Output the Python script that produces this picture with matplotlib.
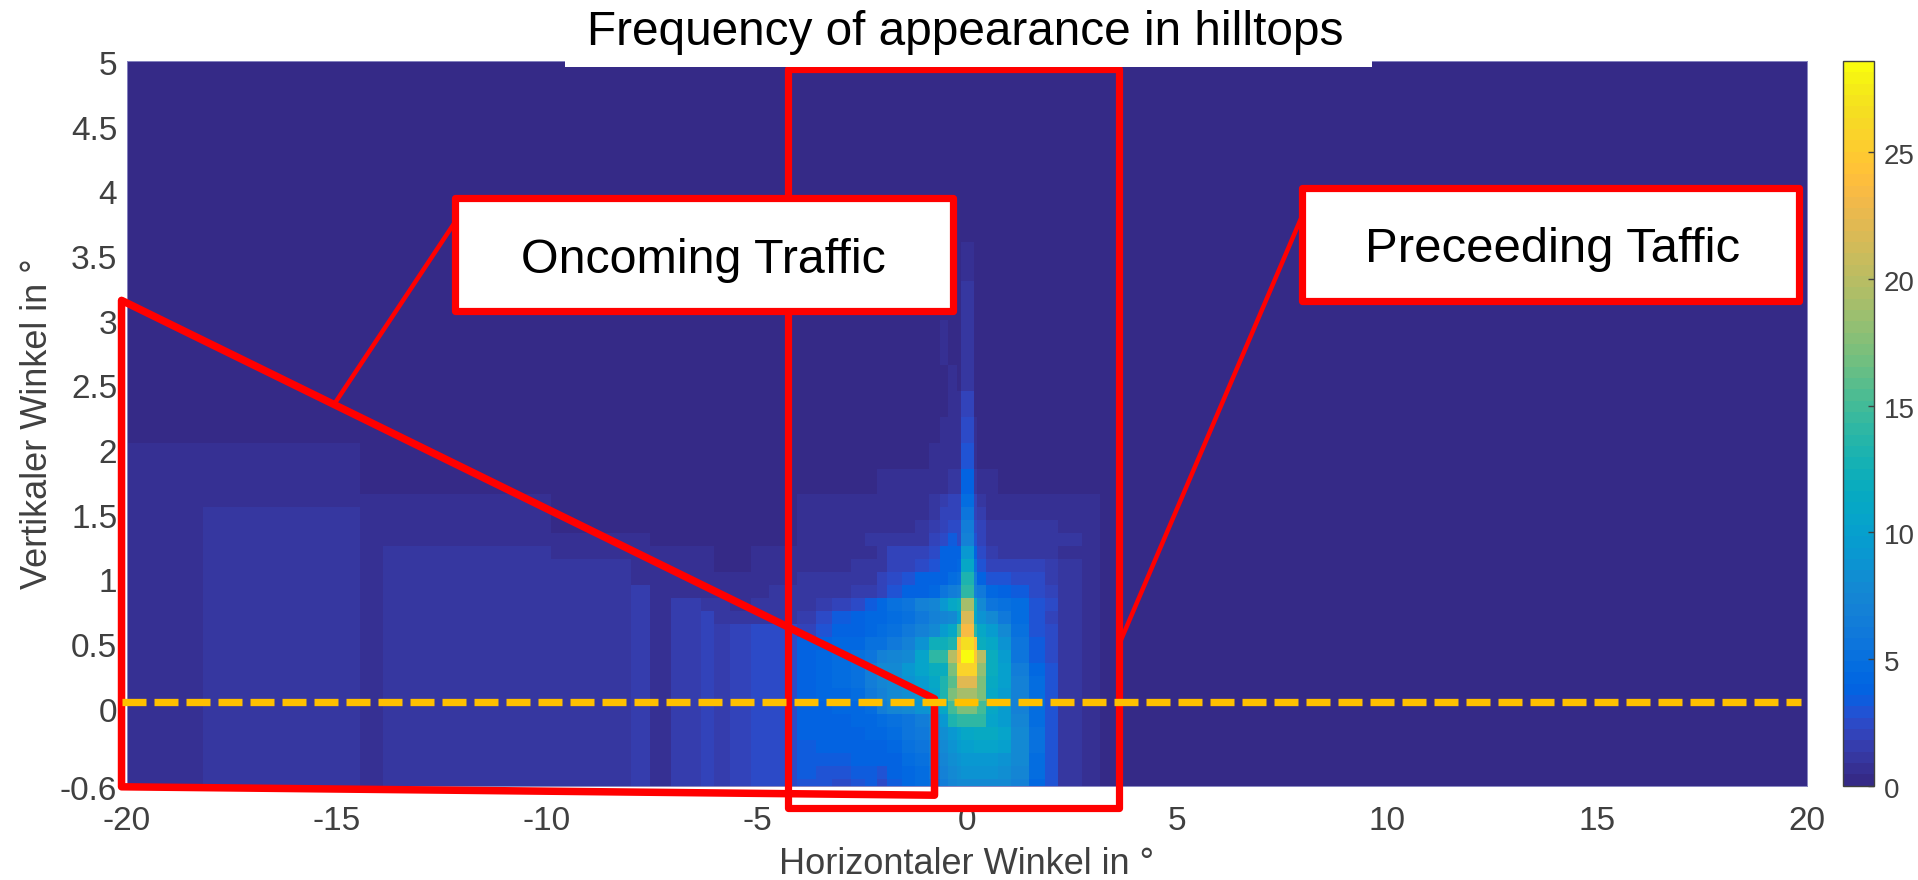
from matplotlib import pyplot as plt
from matplotlib.colors import ListedColormap
from matplotlib.patches import Polygon, Rectangle
from matplotlib.transforms import ScaledTranslation

plt.rcParams['font.family'] = ['Liberation Sans', 'DejaVu Sans']

# cell edges of the frequency map, horizontal and vertical angle in degrees
x_edges = [-20, -18.2, -14.45, -13.9, -9.9, -8, -7.55, -7.05, -6.33, -6.03, -5.64, -5.14, -4.72, -4.05,
           -3.6, -3.2, -2.75, -2.42, -2.15, -1.9, -1.55, -1.23, -0.9, -0.64, -0.44, -0.24, -0.14, 0.16,
           0.25, 0.45, 0.75, 1.05, 1.47, 1.85, 2.17, 2.75, 3.17, 20]
y_edges = [-0.6, -0.55, -0.45, -0.35, -0.25, -0.15, -0.05, 0.05, 0.15, 0.25, 0.35, 0.45, 0.55, 0.65, 0.75,
           0.85, 0.95, 1.05, 1.15, 1.25, 1.35, 1.45, 1.55, 1.65, 1.85, 2.05, 2.25, 2.45, 2.65, 3.0, 3.3, 3.6, 5]

# one row per y cell, bottom row first
counts = [
    [.5, 1, .5, 1, 1, 1.4, .8, 1.4, 1.9, 1.4, 1.9, 2.3, 2.4, 2.8, 2.8, 2.4, 2.8, 3.2, 2.6, 3.4, 4.2, 4.5, 5.2, 6.5, 7.2, 7.8, 8, 8, 8, 8, 8, 7, 4.4, 3, 1.3, .5, 0],
    [.5, 1, .5, 1, 1, 1.4, .8, 1.4, 1.9, 1.4, 1.9, 2.3, 2.4, 3.2, 3, 2.8, 3.2, 3.4, 3, 3.6, 4.4, 4.8, 5.6, 7, 7.8, 8.4, 8.6, 8.6, 8.6, 8.6, 8.4, 7.4, 4.6, 3, 1.3, .5, 0],
    [.5, 1, .5, 1, 1, 1.4, .8, 1.4, 1.9, 1.4, 1.9, 2.3, 2.4, 3.4, 3.4, 3.4, 3.6, 3.8, 3.6, 4, 4.6, 5, 6, 7.4, 8.2, 8.6, 9, 9, 9, 9, 8.8, 7.6, 4.6, 3, 1.3, .5, 0],
    [.5, 1, .5, 1, 1, 1.4, .8, 1.4, 1.9, 1.4, 1.9, 2.3, 2.4, 3.5, 3.6, 3.7, 3.8, 4, 4, 4.4, 5, 5.5, 6.5, 7.8, 8.8, 9.4, 10, 10.4, 10.4, 10.4, 10, 8, 5, 3.1, 1.3, .5, 0],
    [.5, 1, .5, 1, 1, 1.4, .8, 1.4, 1.9, 1.4, 1.9, 2.3, 2.4, 3.6, 3.8, 3.9, 4, 4.2, 4.4, 4.8, 5.4, 6, 7, 8.2, 9.2, 10, 11, 11.2, 11.2, 11.2, 10.6, 8, 5, 3.1, 1.3, .5, 0],
    [.5, 1, .5, 1, 1, 1.4, .8, 1.4, 1.9, 1.4, 1.9, 2.3, 2.4, 3.7, 3.9, 4, 4.2, 4.4, 4.6, 5, 5.8, 6.4, 7.4, 9, 13, 14.2, 14.2, 14.2, 14, 10.6, 9.4, 7.2, 4.8, 3.1, 1.3, .5, 0],
    [.5, 1, .5, 1, 1, 1.4, .8, 1.4, 1.9, 1.4, 1.9, 2.3, 2.4, 3.8, 4, 4.2, 4.4, 4.8, 6.5, 7.5, 8, 8.8, 9.8, 11, 15, 17, 17, 17, 15, 11, 9.6, 7, 4.8, 3.1, 1.3, .5, 0],
    [.5, 1, .5, 1, 1, 1.4, .8, 1.4, 1.9, 1.4, 1.9, 2.3, 2.4, 3.9, 4.2, 4.4, 4.8, 6, 7, 7.8, 8.2, 9.2, 10.4, 13, 17, 19, 19, 19, 17, 11, 9.8, 7, 4.8, 3.1, 1.3, .5, 0],
    [.5, 1, .5, 1, 1, 1.4, .8, 1.4, 1.9, 1.4, 1.9, 2.3, 2.4, 4, 4.4, 4.8, 5.2, 6.4, 7.4, 8, 8.6, 9.6, 11, 13, 16, 22, 22, 22, 17, 11.5, 10, 6.8, 4.6, 3, 1.3, .5, 0],
    [.5, 1, .5, 1, 1, 1.4, .8, 1.4, 1.9, 1.4, 1.9, 2.3, 2.4, 4, 4.4, 4.8, 5.2, 6.6, 7.6, 8, 9, 10.4, 12, 12, 17, 25.5, 25.5, 25.5, 18, 12, 10, 6.6, 4.4, 3, 1.3, .5, 0],
    [.5, 1, .5, 1, 1, 1.4, .8, 1.4, 1.9, 1.4, 1.9, 2.3, 2.4, 4, 4.4, 4.8, 5, 5.4, 7, 7.4, 8, 10.5, 14, 14, 20, 24, 28.6, 25, 20, 12, 9.5, 5.8, 3.4, 2.4, 1, .5, 0],
    [.5, 1, .5, 1, 1, 1.4, .8, 1.4, 1.9, 1.4, 1.9, 2.3, 2.4, 3.8, 4, 4.2, 4.4, 5, 5.2, 6, 6.8, 8.5, 12.5, 12.5, 13, 24, 26.8, 24, 12, 11, 8.5, 5.4, 3.2, 2.4, 1, .5, 0],
    [.5, 1, .5, 1, 1, 1.4, .8, 1.4, 1.9, 1.4, 1.9, 2.3, 2.4, 2, 3, 3.8, 4, 4.4, 4.6, 5.2, 6, 6.8, 8, 9.5, 11, 16, 23.5, 14, 11, 9.5, 8, 5, 3, 2.4, 1, .5, 0],
    [.5, 1, .5, 1, 1, 1.4, .8, 1.4, 1.9, 1, 1, 1, 1, 1.5, 2.5, 3.4, 4, 4.2, 4.2, 4.8, 5.2, 6, 6.8, 7.5, 8, 10, 21.5, 11, 8.8, 7.6, 6, 4.6, 2.8, 2.2, 1, .5, 0],
    [.5, 1, .5, 1, 1, 1.4, .8, 1.4, 1, .9, .8, .9, 1, 1.2, 1.6, 1.8, 2.6, 3.5, 4.2, 5, 5.5, 7, 7.5, 9, 11, 12, 19, 12, 8, 5.5, 5.2, 4.6, 3, 2.4, 1.1, .5, 0],
    [.5, 1, .5, 1, 1, 1.4, .7, .8, .5, .5, .7, .8, .9, 1, 1.1, 1.2, 1.4, 1.5, 2.2, 2.8, 3.8, 4, 4.4, 5.5, 6.5, 7, 14, 7, 6, 4.2, 4, 3.4, 2.6, 1.8, 1, .5, 0],
    [.5, 1, .5, 1, 1, .5, .5, .6, .5, .5, .5, .7, .7, 1, 1, 1, 1.2, 1.3, 1.8, 2.5, 3, 3.6, 3.6, 4, 4.6, 5, 13, 6.5, 4, 3, 2.7, 2.6, 2.5, 1.6, 1, .5, 0],
    [.5, 1, .5, 1, 1, .5, .5, .5, .5, 0, 0, .5, .5, .8, .8, .8, .9, 1.2, 1.3, 2.2, 2.2, 2.4, 3, 4, 4, 4.2, 11, 5, 3, 2.2, 2, 2, 2, 1.4, 1, .5, 0],
    [.5, 1, .5, 1, .5, .5, .5, .5, .5, 0, 0, .5, .5, .5, .7, .8, .8, .8, 1, 1.8, 1.8, 2.2, 2.6, 3.6, 3.6, 3.6, 9, 4, 2.6, 1.4, 1.2, 1.3, 1.3, 1.3, .8, .5, 0],
    [.5, 1, .5, .5, .5, .5, 0, 0, 0, 0, 0, 0, 0, .5, .5, .5, .5, .9, 1, 1, 1, 1, 1.8, 2.4, 3.4, 2.6, 7, 2.8, 2, 1.1, 1, 1, 1, 1, .9, .5, 0],
    [.5, 1, .5, .5, 0, 0, 0, 0, 0, 0, 0, 0, 0, .5, .5, .5, .5, .5, .5, .5, .8, .9, 1.4, 2, 2.4, 2.6, 6.5, 2.6, 1.8, .9, .9, .9, .9, .9, .8, .5, 0],
    [.5, 1, .5, .5, 0, 0, 0, 0, 0, 0, 0, 0, 0, .5, .5, .5, .5, .5, .5, .7, .7, .7, 1.2, 1.8, 2, 2, 5.5, 2, 1.4, .7, .7, .7, .7, .7, .7, .5, 0],
    [.5, .5, .5, .5, 0, 0, 0, 0, 0, 0, 0, 0, 0, .5, .5, .5, .5, .5, .5, .5, .5, .8, 1, 1.6, 1.8, 1.8, 4.8, 1.8, 1, .6, .6, .6, .6, .6, .6, .5, 0],
    [.5, .5, 0, 0, 0, 0, 0, 0, 0, 0, 0, 0, 0, 0, 0, 0, 0, 0, .5, .5, .5, .5, .5, .7, 1, 1, 3.8, 1, .7, .5, 0, 0, 0, 0, 0, 0, 0],
    [.5, .5, 0, 0, 0, 0, 0, 0, 0, 0, 0, 0, 0, 0, 0, 0, 0, 0, 0, 0, 0, 0, .5, .6, .6, .6, 3, .5, 0, 0, 0, 0, 0, 0, 0, 0, 0],
    [0, 0, 0, 0, 0, 0, 0, 0, 0, 0, 0, 0, 0, 0, 0, 0, 0, 0, 0, 0, 0, 0, 0, .5, .5, .5, 2.4, .5, 0, 0, 0, 0, 0, 0, 0, 0, 0],
    [0, 0, 0, 0, 0, 0, 0, 0, 0, 0, 0, 0, 0, 0, 0, 0, 0, 0, 0, 0, 0, 0, 0, 0, .5, .5, 2.1, 0, 0, 0, 0, 0, 0, 0, 0, 0, 0],
    [0, 0, 0, 0, 0, 0, 0, 0, 0, 0, 0, 0, 0, 0, 0, 0, 0, 0, 0, 0, 0, 0, 0, 0, .5, 0, 1.1, 0, 0, 0, 0, 0, 0, 0, 0, 0, 0],
    [0, 0, 0, 0, 0, 0, 0, 0, 0, 0, 0, 0, 0, 0, 0, 0, 0, 0, 0, 0, 0, 0, 0, .5, 0, 0, .95, 0, 0, 0, 0, 0, 0, 0, 0, 0, 0],
    [0, 0, 0, 0, 0, 0, 0, 0, 0, 0, 0, 0, 0, 0, 0, 0, 0, 0, 0, 0, 0, 0, 0, 0, 0, 0, .95, 0, 0, 0, 0, 0, 0, 0, 0, 0, 0],
    [0, 0, 0, 0, 0, 0, 0, 0, 0, 0, 0, 0, 0, 0, 0, 0, 0, 0, 0, 0, 0, 0, 0, 0, 0, 0, .6, 0, 0, 0, 0, 0, 0, 0, 0, 0, 0],
    [0, 0, 0, 0, 0, 0, 0, 0, 0, 0, 0, 0, 0, 0, 0, 0, 0, 0, 0, 0, 0, 0, 0, 0, 0, 0, 0, 0, 0, 0, 0, 0, 0, 0, 0, 0, 0],
]

x_ticks = [-20, -15, -10, -5, 0, 5, 10, 15, 20]
x_tick_labels = ['-20', '-15', '-10', '-5', '0', '5', '10', '15', '20']
y_ticks = [-0.6, 0, 0.5, 1, 1.5, 2, 2.5, 3, 3.5, 4, 4.5, 5]
y_tick_labels = ['-0.6', '0', '0.5', '1', '1.5', '2', '2.5', '3', '3.5', '4', '4.5', '5']
bar_ticks = [0, 5, 10, 15, 20, 25]
count_max = 28.6

# MATLAB parula, 64 levels
parula = ListedColormap([
    (0.2081, 0.1663, 0.5292), (0.2116, 0.1898, 0.5777), (0.2123, 0.2138, 0.6270), (0.2081, 0.2386, 0.6771),
    (0.1959, 0.2645, 0.7279), (0.1707, 0.2919, 0.7792), (0.1253, 0.3242, 0.8303), (0.0591, 0.3598, 0.8683),
    (0.0117, 0.3875, 0.8820), (0.0060, 0.4086, 0.8828), (0.0165, 0.4266, 0.8786), (0.0329, 0.4430, 0.8720),
    (0.0498, 0.4586, 0.8641), (0.0629, 0.4737, 0.8554), (0.0723, 0.4887, 0.8467), (0.0779, 0.5040, 0.8384),
    (0.0793, 0.5200, 0.8312), (0.0749, 0.5375, 0.8263), (0.0641, 0.5570, 0.8240), (0.0488, 0.5772, 0.8228),
    (0.0343, 0.5966, 0.8199), (0.0265, 0.6137, 0.8135), (0.0239, 0.6287, 0.8038), (0.0231, 0.6418, 0.7913),
    (0.0228, 0.6535, 0.7768), (0.0267, 0.6642, 0.7607), (0.0384, 0.6743, 0.7436), (0.0590, 0.6838, 0.7254),
    (0.0843, 0.6928, 0.7062), (0.1133, 0.7015, 0.6859), (0.1453, 0.7098, 0.6646), (0.1801, 0.7177, 0.6424),
    (0.2178, 0.7250, 0.6193), (0.2586, 0.7317, 0.5954), (0.3022, 0.7376, 0.5712), (0.3482, 0.7424, 0.5473),
    (0.3953, 0.7459, 0.5244), (0.4420, 0.7481, 0.5033), (0.4871, 0.7491, 0.4840), (0.5300, 0.7491, 0.4661),
    (0.5709, 0.7485, 0.4494), (0.6099, 0.7473, 0.4337), (0.6473, 0.7456, 0.4188), (0.6834, 0.7435, 0.4044),
    (0.7184, 0.7411, 0.3905), (0.7525, 0.7384, 0.3768), (0.7858, 0.7356, 0.3633), (0.8185, 0.7327, 0.3498),
    (0.8507, 0.7299, 0.3360), (0.8824, 0.7274, 0.3217), (0.9139, 0.7258, 0.3063), (0.9450, 0.7261, 0.2886),
    (0.9739, 0.7314, 0.2666), (0.9938, 0.7455, 0.2403), (0.9990, 0.7653, 0.2164), (0.9955, 0.7861, 0.1967),
    (0.9880, 0.8066, 0.1794), (0.9789, 0.8271, 0.1633), (0.9697, 0.8481, 0.1475), (0.9626, 0.8705, 0.1309),
    (0.9589, 0.8949, 0.1132), (0.9598, 0.9218, 0.0948), (0.9661, 0.9514, 0.0755), (0.9763, 0.9831, 0.0538),
])

W, H = 1918, 880
TEXT = '#404040'
RED = '#ff0000'
PX = 72 / 100  # one pixel in points

fig = plt.figure(figsize=(W / 100, H / 100), dpi=100)
ax = fig.add_axes([127 / W, 1 - 785.5 / H, (1806.7 - 127) / W, (785.5 - 61) / H])
cax = fig.add_axes([1843 / W, 1 - 785.5 / H, 31 / W, (785.5 - 61) / H])

mesh = ax.pcolormesh(x_edges, y_edges, counts, cmap=parula, vmin=0, vmax=count_max, shading='flat', antialiased=False)
ax.set_xlim(-20, 20)
ax.set_ylim(-0.6, 5)
ax.set_xticks(x_ticks, x_tick_labels)
ax.set_yticks(y_ticks, y_tick_labels)
ax.tick_params(axis='both', length=0, labelsize=24, labelcolor=TEXT)
ax.tick_params(axis='x', pad=15)
ax.tick_params(axis='y', pad=7)
ax.set_xlabel("Horizontaler Winkel in °", fontsize=26, color=TEXT, labelpad=7)
ax.set_ylabel("Vertikaler Winkel in °", fontsize=26, color=TEXT, labelpad=3.5)
for spine in ax.spines.values():
    spine.set_color('#8785c0')
    spine.set_linewidth(0.7)

cbar = fig.colorbar(mesh, cax=cax, ticks=bar_ticks)
cbar.ax.tick_params(direction='in', length=6 * PX, width=1, color=TEXT, labelsize=20, labelcolor=TEXT, pad=7)
cbar.outline.set_edgecolor(TEXT)
cbar.outline.set_linewidth(1)

# tick labels sit a little lower than matplotlib centres them
down = ScaledTranslation(0, -2 / 100, fig.dpi_scale_trans)
for label in ax.get_yticklabels() + cbar.ax.get_yticklabels():
    label.set_transform(label.get_transform() + down)

# hand drawn regions on top of the map
ax.add_patch(Rectangle((-4.27, -0.775), 7.9, 5.71, fill=False, ec=RED, lw=7.2 * PX, joinstyle='round', clip_on=False, zorder=3))
ax.add_patch(Polygon([(-20.13, 3.15), (-20.13, -0.61), (-0.77, -0.675), (-0.77, 0.07)], closed=True, fill=False,
                     ec=RED, lw=7.5 * PX, joinstyle='round', clip_on=False, zorder=3))
ax.plot([-12.24, -15.05], [3.73, 2.355], color=RED, lw=4.5 * PX, clip_on=False, zorder=3)
ax.plot([7.94, 3.69], [3.77, 0.54], color=RED, lw=4.5 * PX, clip_on=False, zorder=3)

ax.add_patch(Rectangle((-12.19, 3.07), 11.86, 0.87, fc='white', ec=RED, lw=7.2 * PX, joinstyle='round', clip_on=False, zorder=4))
ax.add_patch(Rectangle((7.97, 3.143), 11.85, 0.873, fc='white', ec=RED, lw=7.2 * PX, joinstyle='round', clip_on=False, zorder=4))
ax.text(-6.27, 3.46, "Oncoming Traffic", fontsize=34.8, color='black', ha='center', va='center', zorder=5)
ax.text(13.94, 3.54, "Preceeding Taffic", fontsize=35.4, color='black', ha='center', va='center', zorder=5)

ax.plot([-20.13, 19.87], [0.042, 0.042], color='#ffc000', lw=7.3 * PX, dashes=(24 / 7.3, 8 / 7.3),
        dash_capstyle='butt', clip_on=False, zorder=6)

# title sits on a white strip that covers the map's top edge
ax.add_patch(Rectangle((-9.57, 4.95), 19.22, 0.6, fc='white', ec='none', clip_on=False, zorder=7))
fig.text(965 / W, 1 - 45 / H, "Frequency of appearance in hilltops", fontsize=34.4, color='black',
         ha='center', va='baseline', zorder=8)

plt.savefig("out.png", dpi=100)
plt.close()
